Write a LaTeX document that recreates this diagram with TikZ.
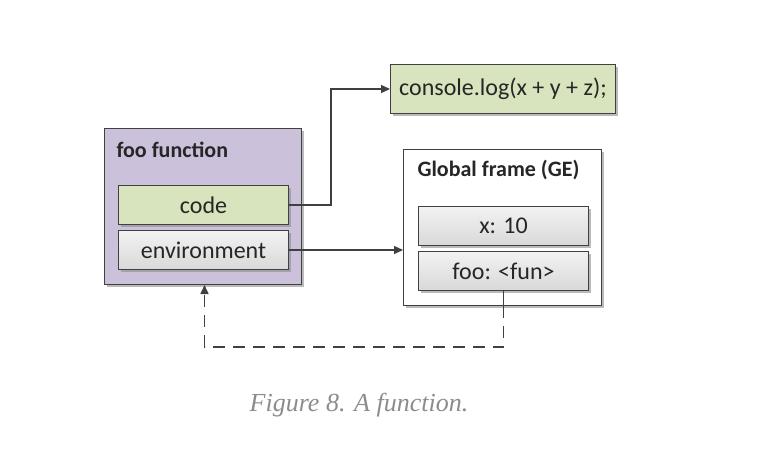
\documentclass[tikz,border=0pt]{standalone}
\usepackage{fontspec}
\setmainfont{Carlito}
\newfontfamily\capfont{Liberation Serif}
\usetikzlibrary{arrows.meta,shadows}
\definecolor{edge}{HTML}{404040}
\definecolor{lav}{HTML}{CCC1DA}
\definecolor{olive}{HTML}{D7E4BD}
\definecolor{capgray}{HTML}{8C8C8C}
\begin{document}
\begin{tikzpicture}[x=1pt,y=-1pt,
  box/.style={draw=edge,line width=1pt,inner sep=0pt,anchor=north west,
    drop shadow={shadow xshift=2.5pt,shadow yshift=-2.5pt,fill=black!45,opacity=0.6}},
  graybox/.style={box,top color=white!95!black,bottom color=black!15},
  greenbox/.style={box,fill=olive},
  conn/.style={draw=edge,line width=1.2pt,-{Triangle[length=9pt,width=8pt]}},
  lbl/.style={font=\fontsize{24}{28}\selectfont,text=black!85},
  title/.style={font=\bfseries\fontsize{22}{26}\selectfont,text=black!85,anchor=west}]
\useasboundingbox (0,0) rectangle (766,450);
% foo function frame
\node[box,fill=lav,minimum width=197pt,minimum height=156pt] (foofn) at (104,128) {};
\node[title] (foot) at (113,150) {foo function};
\node[greenbox,minimum width=170pt,minimum height=39pt] (code) at (118,185) {};
\node[lbl] at (code.center) {code};
\node[graybox,minimum width=170pt,minimum height=39pt] (env) at (118,230) {};
\node[lbl] at (env.center) {environment};
% console
\node[greenbox,minimum width=225pt,minimum height=49pt] (cons) at (390,64) {};
\node[lbl] at (cons.center) {console.log(x + y + z);};
% global frame
\node[box,fill=white,minimum width=198pt,minimum height=156pt] (ge) at (403,149) {};
\node[title] (get) at (414,170) {Global frame (GE)};
\node[graybox,minimum width=170pt,minimum height=39pt] (xv) at (418,206) {};
\node[lbl] at (xv.center) {x: 10};
\node[graybox,minimum width=170pt,minimum height=39pt] (foo) at (418,251) {};
\node[lbl] at (foo.center) {foo: <fun>};
% connectors
\coordinate (bend) at (331,0);
\draw[conn] (code.east) -| (bend |- code.east) |- (cons.west);
\draw[conn] (env.east) -- (env.east -| ge.west);
\coordinate (gebot) at (foo.south |- ge.south);
\coordinate (low) at (0,347);
\draw[draw=edge,line width=1.2pt] (foo.south) -- (gebot);
\draw[conn,line width=1.6pt,dash pattern=on 12pt off 8pt] (gebot) -- (gebot |- low) -| ([xshift=1.5pt]foofn.south);
% caption
\node[font=\capfont\itshape\fontsize{26}{30}\selectfont,text=capgray] (cap) at (359,405) {Figure 8. A function.};
\end{tikzpicture}
\end{document}
